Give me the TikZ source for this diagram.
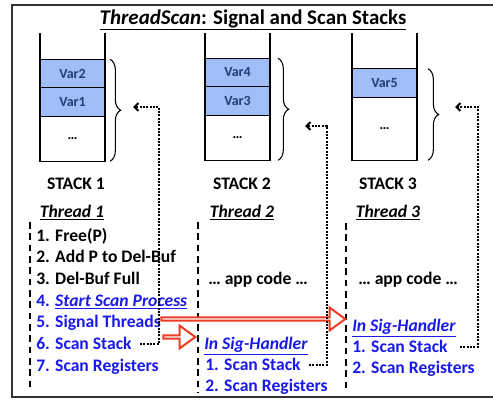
\documentclass[tikz,border=0pt]{standalone}
\usepackage{fontspec}
\setmainfont{Carlito}
\usepackage{tikz}
\usetikzlibrary{positioning,decorations.pathreplacing,shapes.arrows,arrows.meta}
\definecolor{cellblue}{RGB}{160,190,245}
\definecolor{varblue}{RGB}{35,60,125}
\definecolor{codeblue}{RGB}{25,25,235}
\definecolor{sigred}{RGB}{235,60,35}
\tikzset{
  >=latex,
  x=0.75pt,
  y=0.75pt,
}
\tikzstyle{every node}=[font=\bfseries\fontsize{13.2}{16}\selectfont, inner sep=0pt]
\tikzstyle{cell}=[draw, line width=1pt, outer sep=0pt, minimum width=48.75pt, minimum height=21.4pt, fill=cellblue, text=varblue, font=\bfseries\fontsize{10.5}{12}\selectfont]
\tikzstyle{emptycell}=[cell, fill=white, text=black]
\tikzstyle{wall}=[line width=1pt]
\tikzstyle{stackbrace}=[line width=0.8pt, decorate, decoration={brace, amplitude=8pt}]
\tikzstyle{scanlink}=[line width=1.5pt, densely dotted, -{Straight Barb[length=3pt, width=6pt]}]
\tikzstyle{lifeline}=[line width=1.5pt, dash pattern=on 5pt off 3.5pt]
\tikzstyle{codeline}=[anchor=base west]
\tikzstyle{scanline}=[codeline, text=codeblue]
\tikzstyle{sigarrow}=[single arrow, draw=sigred, line width=1.5pt, fill=white, minimum width=17pt, single arrow head extend=4.75pt, single arrow tip angle=72]

\begin{document}
\begin{tikzpicture}
    \useasboundingbox (0,0) rectangle (493,401);
    \draw[line width=1.6pt, black!80] (12,396) rectangle (520,4);
    \node[anchor=base, font=\bfseries\fontsize{15.7}{18}\selectfont] (title) at (253,377) {\underline{\textit{ThreadScan}: Signal and Scan Stacks}};

    % stacks
    \node[cell] (s1a) at (72.5,327.5) {Var2};
    \node[cell, below=0pt of s1a] (s1b) {Var1};
    \node[emptycell, minimum height=33.75pt, below=0pt of s1b] (s1c) {…};
    \node[cell] (s2a) at (237.5,328.5) {Var4};
    \node[cell, below=0pt of s2a] (s2b) {Var3};
    \node[emptycell, minimum height=33.75pt, below=0pt of s2b] (s2c) {…};
    \node[cell] (s3a) at (384.5,318) {Var5};
    \node[emptycell, minimum height=47.25pt, below=0pt of s3a] (s3b) {…};
    \draw[wall] (s1a.north west) -- ++(0,26);
    \draw[wall] (s1a.north east) -- ++(0,26);
    \draw[wall] (s2a.north west) -- ++(0,25);
    \draw[wall] (s2a.north east) -- ++(0,25);
    \draw[wall] (s3a.north west) -- ++(0,36);
    \draw[wall] (s3a.north east) -- ++(0,36);
    \draw[stackbrace] ([xshift=3.75pt]s1a.north east) -- ([xshift=3.75pt]s1c.south east);
    \draw[stackbrace] ([xshift=6pt]s2a.north east) -- ([xshift=6pt]s2c.south east);
    \draw[stackbrace] ([xshift=8.25pt]s3a.north east) -- ([xshift=8.25pt]s3b.south east);
    \node[anchor=base] (st1) at (76,212) {STACK 1};
    \node[anchor=base] (st2) at (242,212) {STACK 2};
    \node[anchor=base] (st3) at (388,212) {STACK 3};

    % threads
    \node[anchor=base] (th1) at (72,183.5) {\underline{\textit{Thread 1}}};
    \node[anchor=base] (th2) at (242,183.5) {\underline{\textit{Thread 2}}};
    \node[anchor=base] (th3) at (388,183.5) {\underline{\textit{Thread 3}}};
    \draw[lifeline] (30,179) -- (30,13);
    \draw[lifeline] (198,179) -- (198,8);
    \draw[lifeline] (346,178) -- (346,13);

    \node[codeline] (t1a) at (36,160) {1. Free(P)};
    \node[codeline] (t1b) at (36,138.3) {2. Add P to Del-Buf};
    \node[codeline] (t1c) at (36,116.7) {3. Del-Buf Full};
    \node[scanline] (t1d) at (36,95) {4. \underline{\textit{Start Scan Process}}};
    \node[scanline] (t1e) at (36,73.3) {5. Signal Threads};
    \node[scanline] (t1f) at (36,51.7) {6. Scan Stack};
    \node[scanline] (t1g) at (36,30) {7. Scan Registers};

    \node[codeline] (t2a) at (208,117) {… app code …};
    \node[scanline] (t2b) at (204,52) {\underline{\textit{In Sig-Handler}}};
    \node[scanline] (t2c) at (205,31) {1. Scan Stack};
    \node[scanline] (t2d) at (205,9.5) {2. Scan Registers};

    \node[codeline] (t3a) at (358,117) {… app code …};
    \node[scanline] (t3b) at (352,70) {\underline{\textit{In Sig-Handler}}};
    \node[scanline] (t3c) at (352,49) {1. Scan Stack};
    \node[scanline] (t3d) at (352,28) {2. Scan Registers};

    % signals and scans
    \node[sigarrow, minimum height=138pt, anchor=tip] (sigA) at ([xshift=-3.75pt,yshift=9pt]t3b.base west) {};
    \node[sigarrow, minimum height=24pt, anchor=tip] (sigB) at ([xshift=-5.25pt,yshift=9pt]t2b.base west) {};
    \coordinate (b1) at (133,294);
    \coordinate (b2) at (305,275);
    \coordinate (b3) at (455,294);
    \draw[scanlink] ([xshift=6pt,yshift=4pt]t1f.base east) -| ([xshift=19.5pt]b1) -- (b1);
    \draw[scanlink] ([xshift=6pt,yshift=4pt]t2c.base east) -| ([xshift=16.5pt]b2) -- (b2);
    \draw[scanlink] ([xshift=9pt,yshift=4pt]t3c.base east) -| ([xshift=17.25pt]b3) -- (b3);
\end{tikzpicture}
\end{document}
